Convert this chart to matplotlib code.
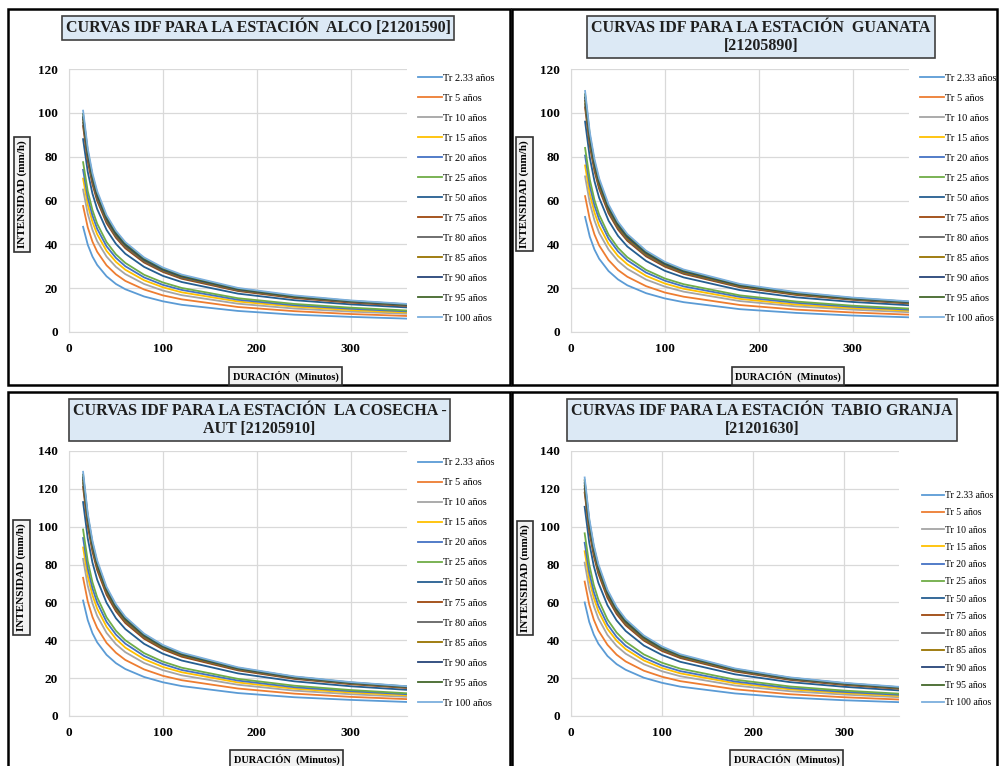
import matplotlib
matplotlib.use("Agg")
import matplotlib.pyplot as plt
from matplotlib.patches import Rectangle

plt.rcParams['font.family'] = ['Liberation Serif', 'DejaVu Serif']

# duracion (min)
dur = [15, 20, 25, 30, 40, 50, 60, 80, 100, 120, 180, 240, 300, 360]

tr_labels = ["Tr 2.33 años", "Tr 5 años", "Tr 10 años", "Tr 15 años", "Tr 20 años",
             "Tr 25 años", "Tr 50 años", "Tr 75 años", "Tr 80 años", "Tr 85 años",
             "Tr 90 años", "Tr 95 años", "Tr 100 años"]

colors = ["#5B9BD5", "#ED7D31", "#A5A5A5", "#FFC000", "#4472C4", "#70AD47", "#255E91",
          "#9E480E", "#636363", "#997300", "#264478", "#43682B", "#7CAFDD"]

# intensidades (mm/h), una fila por periodo de retorno
alco = [
    [48, 39.8, 34.4, 30.6, 25.4, 21.9, 19.5, 16.2, 14.0, 12.4, 9.6, 7.9, 6.9, 6.1],
    [57.5, 47.7, 41.2, 36.6, 30.4, 26.3, 23.3, 19.4, 16.7, 14.9, 11.4, 9.5, 8.2, 7.3],
    [65, 53.9, 46.6, 41.4, 34.4, 29.7, 26.4, 21.9, 18.9, 16.8, 12.9, 10.7, 9.3, 8.3],
    [70, 58.0, 50.2, 44.6, 37.0, 32.0, 28.4, 23.6, 20.4, 18.1, 13.9, 11.6, 10.0, 8.9],
    [74, 61.3, 53.1, 47.1, 39.1, 33.8, 30.0, 24.9, 21.5, 19.2, 14.7, 12.2, 10.6, 9.4],
    [77.5, 64.2, 55.6, 49.4, 41.0, 35.4, 31.5, 26.1, 22.6, 20.1, 15.4, 12.8, 11.1, 9.8],
    [88, 73.0, 63.1, 56.1, 46.6, 40.2, 35.7, 29.7, 25.6, 22.8, 17.5, 14.5, 12.6, 11.2],
    [94, 77.9, 67.4, 59.9, 49.7, 43.0, 38.2, 31.7, 27.4, 24.3, 18.7, 15.5, 13.4, 11.9],
    [95.5, 79.2, 68.5, 60.8, 50.5, 43.6, 38.8, 32.2, 27.8, 24.7, 19.0, 15.8, 13.7, 12.1],
    [97, 80.4, 69.5, 61.8, 51.3, 44.3, 39.4, 32.7, 28.2, 25.1, 19.3, 16.0, 13.9, 12.3],
    [98, 81.2, 70.3, 62.4, 51.8, 44.8, 39.8, 33.0, 28.5, 25.4, 19.5, 16.2, 14.0, 12.4],
    [99.5, 82.5, 71.3, 63.4, 52.6, 45.5, 40.4, 33.5, 29.0, 25.8, 19.8, 16.4, 14.2, 12.6],
    [101, 83.7, 72.4, 64.3, 53.4, 46.2, 41.0, 34.0, 29.4, 26.2, 20.1, 16.7, 14.4, 12.8],
]

guanata = [
    [52.5, 43.5, 37.6, 33.4, 27.8, 24.0, 21.3, 17.7, 15.3, 13.6, 10.4, 8.7, 7.5, 6.7],
    [62, 51.4, 44.5, 39.5, 32.8, 28.3, 25.2, 20.9, 18.0, 16.1, 12.3, 10.2, 8.9, 7.9],
    [71, 58.9, 50.9, 45.2, 37.6, 32.4, 28.8, 23.9, 20.7, 18.4, 14.1, 11.7, 10.2, 9.0],
    [76, 63.0, 54.5, 48.4, 40.2, 34.7, 30.9, 25.6, 22.1, 19.7, 15.1, 12.5, 10.9, 9.7],
    [80.5, 66.7, 57.7, 51.3, 42.6, 36.8, 32.7, 27.1, 23.4, 20.8, 16.0, 13.3, 11.5, 10.2],
    [84, 69.6, 60.2, 53.5, 44.4, 38.4, 34.1, 28.3, 24.4, 21.8, 16.7, 13.9, 12.0, 10.7],
    [96, 79.6, 68.8, 61.2, 50.8, 43.9, 39.0, 32.4, 27.9, 24.9, 19.1, 15.8, 13.7, 12.2],
    [102.5, 85.0, 73.5, 65.3, 54.2, 46.8, 41.6, 34.5, 29.8, 26.5, 20.4, 16.9, 14.7, 13.0],
    [104, 86.2, 74.6, 66.2, 55.0, 47.5, 42.2, 35.0, 30.3, 26.9, 20.7, 17.2, 14.9, 13.2],
    [105.5, 87.5, 75.6, 67.2, 55.8, 48.2, 42.8, 35.6, 30.7, 27.3, 21.0, 17.4, 15.1, 13.4],
    [107, 88.7, 76.7, 68.2, 56.6, 48.9, 43.4, 36.1, 31.1, 27.7, 21.3, 17.7, 15.3, 13.6],
    [108.5, 89.9, 77.8, 69.1, 57.4, 49.6, 44.1, 36.6, 31.6, 28.1, 21.6, 17.9, 15.5, 13.8],
    [110, 91.2, 78.9, 70.1, 58.2, 50.3, 44.7, 37.1, 32.0, 28.5, 21.9, 18.2, 15.7, 14.0],
]

cosecha = [
    [61, 50.6, 43.7, 38.9, 32.3, 27.9, 24.8, 20.6, 17.8, 15.8, 12.1, 9.9, 8.5, 7.4],
    [73, 60.5, 52.3, 46.5, 38.6, 33.4, 29.6, 24.6, 21.2, 18.9, 14.5, 11.8, 10.1, 8.9],
    [83, 68.8, 59.5, 52.9, 43.9, 37.9, 33.7, 28.0, 24.2, 21.5, 16.5, 13.4, 11.5, 10.1],
    [89, 73.8, 63.8, 56.7, 47.1, 40.7, 36.1, 30.0, 25.9, 23.1, 17.7, 14.4, 12.4, 10.9],
    [94, 77.9, 67.4, 59.9, 49.7, 43.0, 38.2, 31.7, 27.4, 24.3, 18.7, 15.2, 13.1, 11.5],
    [98.5, 81.7, 70.6, 62.7, 52.1, 45.0, 40.0, 33.2, 28.7, 25.5, 19.6, 16.0, 13.7, 12.0],
    [113, 93.7, 81.0, 72.0, 59.8, 51.6, 45.9, 38.1, 32.9, 29.3, 22.5, 18.3, 15.7, 13.8],
    [121, 100.3, 86.8, 77.1, 64.0, 55.3, 49.1, 40.8, 35.2, 31.3, 24.1, 19.6, 16.8, 14.8],
    [123, 102.0, 88.2, 78.4, 65.1, 56.2, 49.9, 41.5, 35.8, 31.9, 24.5, 19.9, 17.1, 15.0],
    [124.5, 103.2, 89.3, 79.3, 65.9, 56.9, 50.5, 42.0, 36.2, 32.2, 24.8, 20.2, 17.3, 15.2],
    [126, 104.5, 90.3, 80.3, 66.7, 57.6, 51.2, 42.5, 36.7, 32.6, 25.1, 20.4, 17.5, 15.4],
    [127.5, 105.7, 91.4, 81.2, 67.4, 58.3, 51.8, 43.0, 37.1, 33.0, 25.4, 20.7, 17.7, 15.6],
    [129, 106.9, 92.5, 82.2, 68.2, 59.0, 52.4, 43.5, 37.5, 33.4, 25.7, 20.9, 17.9, 15.7],
]

tabio = [
    [60, 49.7, 43.0, 38.2, 31.7, 27.4, 24.4, 20.2, 17.5, 15.5, 11.9, 9.7, 8.3, 7.3],
    [71, 58.9, 50.9, 45.2, 37.6, 32.4, 28.8, 23.9, 20.7, 18.4, 14.1, 11.5, 9.9, 8.7],
    [81, 67.1, 58.1, 51.6, 42.8, 37.0, 32.9, 27.3, 23.6, 21.0, 16.1, 13.1, 11.3, 9.9],
    [87, 72.1, 62.4, 55.4, 46.0, 39.8, 35.3, 29.3, 25.3, 22.5, 17.3, 14.1, 12.1, 10.6],
    [91.5, 75.9, 65.6, 58.3, 48.4, 41.8, 37.1, 30.8, 26.6, 23.7, 18.2, 14.8, 12.7, 11.2],
    [96.5, 80.0, 69.2, 61.5, 51.0, 44.1, 39.2, 32.5, 28.1, 25.0, 19.2, 15.6, 13.4, 11.8],
    [110.5, 91.6, 79.2, 70.4, 58.5, 50.5, 44.9, 37.2, 32.2, 28.6, 22.0, 17.9, 15.4, 13.5],
    [118, 97.8, 84.6, 75.2, 62.4, 53.9, 47.9, 39.8, 34.3, 30.6, 23.5, 19.1, 16.4, 14.4],
    [120, 99.5, 86.0, 76.4, 63.5, 54.8, 48.7, 40.4, 34.9, 31.1, 23.9, 19.4, 16.7, 14.6],
    [121.5, 100.7, 87.1, 77.4, 64.3, 55.5, 49.3, 40.9, 35.4, 31.5, 24.2, 19.7, 16.9, 14.8],
    [123, 102.0, 88.2, 78.4, 65.1, 56.2, 49.9, 41.5, 35.8, 31.9, 24.5, 19.9, 17.1, 15.0],
    [124.5, 103.2, 89.3, 79.3, 65.9, 56.9, 50.5, 42.0, 36.2, 32.2, 24.8, 20.2, 17.3, 15.2],
    [126, 104.5, 90.3, 80.3, 66.7, 57.6, 51.2, 42.5, 36.7, 32.6, 25.1, 20.4, 17.5, 15.4],
]

titles = ["CURVAS IDF PARA LA ESTACIÓN  ALCO [21201590]",
          "CURVAS IDF PARA LA ESTACIÓN  GUANATA\n[21205890]",
          "CURVAS IDF PARA LA ESTACIÓN  LA COSECHA -\nAUT [21205910]",
          "CURVAS IDF PARA LA ESTACIÓN  TABIO GRANJA\n[21201630]"]

fig = plt.figure(figsize=(10, 7.66), dpi=100)

# panel borders
for r in [(0.008, 0.4974, 0.502, 0.4909), (0.512, 0.4974, 0.485, 0.4909),
          (0.008, -0.01, 0.502, 0.498), (0.512, -0.01, 0.485, 0.498)]:
    fig.patches.append(Rectangle(r[:2], r[2], r[3], transform=fig.transFigure,
                                 fill=False, ec="black", lw=1.8))

panels = [
    # data, axes rect, ymax, title pos, ylabel pos, xlabel pos, legend anchor, spacing, font
    (alco, [0.069, 0.5666, 0.338, 0.3433], 120, (0.258, 0.9634), (0.022, 0.746), (0.2855, 0.509), (0.418, 0.904), 1.03, 7.5),
    (guanata, [0.571, 0.5666, 0.338, 0.3433], 120, (0.761, 0.9517), (0.5245, 0.7467), (0.788, 0.509), (0.920, 0.904), 1.03, 7.5),
    (cosecha, [0.069, 0.0653, 0.338, 0.346], 140, (0.2595, 0.4517), (0.0215, 0.246), (0.2865, 0.009), (0.418, 0.402), 1.03, 7.5),
    (tabio, [0.571, 0.0653, 0.328, 0.346], 140, (0.762, 0.4517), (0.525, 0.2454), (0.7865, 0.009), (0.922, 0.359), 0.85, 7.0),
]

for i, (data, rect, ymax, tpos, ylpos, xlpos, lanchor, lsp, lfs) in enumerate(panels):
    ax = fig.add_axes(rect)
    for row, lab, c in zip(data, tr_labels, colors):
        ax.plot(dur, row, color=c, lw=1.3, label=lab)
    ax.set_xlim(0, 360)
    ax.set_ylim(0, ymax)
    ax.set_xticks([0, 100, 200, 300])
    ax.set_yticks(range(0, ymax + 1, 20))
    ax.grid(True, color="#D9D9D9", lw=0.9)
    ax.set_axisbelow(True)
    for s in ["top", "right"]:
        ax.spines[s].set_visible(False)
    for s in ["left", "bottom"]:
        ax.spines[s].set_color("#D9D9D9")
    ax.tick_params(length=0, labelsize=9.5, pad=8)
    for t in ax.get_xticklabels() + ax.get_yticklabels():
        t.set_fontweight("bold")
    ax.legend(loc="upper left", bbox_to_anchor=lanchor, bbox_transform=fig.transFigure,
              frameon=False, fontsize=lfs, labelspacing=lsp, handlelength=2.3,
              handletextpad=0.1, borderpad=0, borderaxespad=0)

    fig.text(tpos[0], tpos[1], titles[i], ha="center", va="center", fontsize=11.5,
             fontweight="bold", color="#1F1F1F", linespacing=1.1,
             bbox=dict(boxstyle="square,pad=0.25", fc="#DCE9F5", ec="#404040", lw=1.2))
    fig.text(ylpos[0], ylpos[1], "INTENSIDAD (mm/h)", rotation=90, ha="center", va="center",
             fontsize=8, fontweight="bold",
             bbox=dict(boxstyle="square,pad=0.3", fc="#F2F2F2", ec="#303030", lw=1.2))
    fig.text(xlpos[0], xlpos[1], "DURACIÓN  (Minutos)", ha="center", va="center",
             fontsize=7.5, fontweight="bold",
             bbox=dict(boxstyle="square,pad=0.3", fc="#F2F2F2", ec="#303030", lw=1.2))

fig.savefig("out.png", dpi=100, facecolor="white")
